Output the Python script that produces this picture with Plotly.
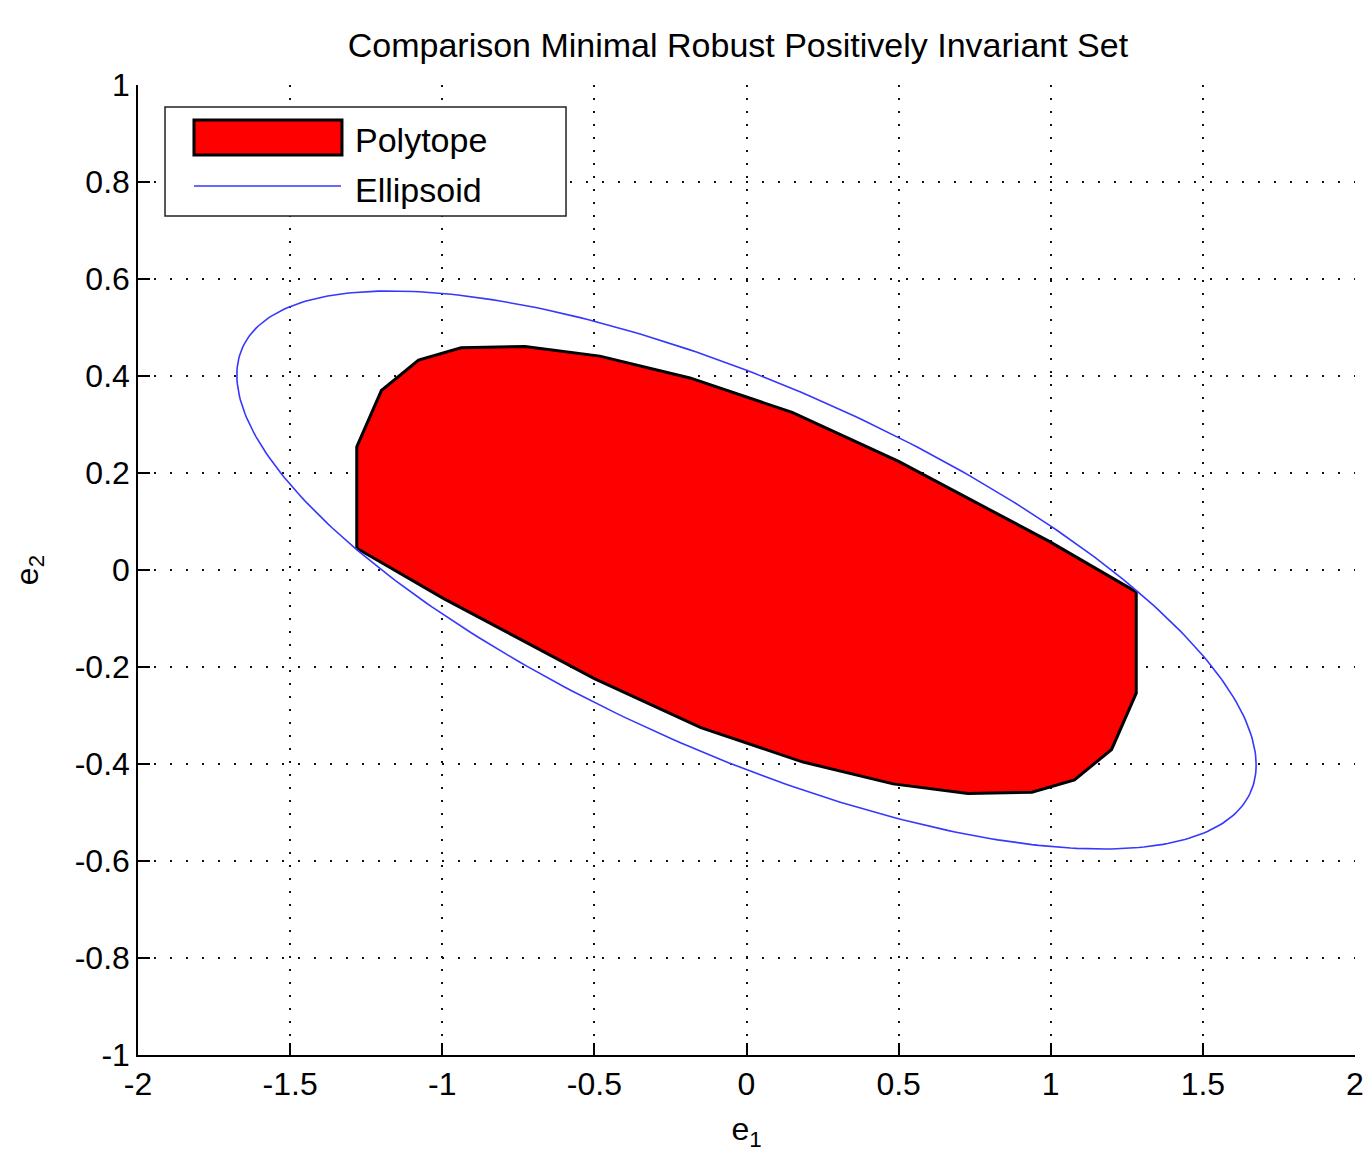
import numpy as np
import plotly.graph_objects as go

# Polytope vertices
poly_x = [-1.281, -1.281, -1.200, -1.078, -0.938, -0.728, -0.482, -0.186, 0.150, 0.500, 0.995,
          1.281, 1.281, 1.200, 1.078, 0.938, 0.728, 0.482, 0.186, -0.150, -0.500, -0.995, -1.281]
poly_y = [0.045, 0.254, 0.370, 0.433, 0.458, 0.461, 0.441, 0.396, 0.325, 0.224, 0.059,
          -0.045, -0.254, -0.370, -0.433, -0.458, -0.461, -0.441, -0.396, -0.325, -0.224, -0.059, 0.045]

# Ellipsoid shape matrix Q (x' Q^-1 x <= 1), centred at origin
ell_center = [0.0, 0.0]
ell_Q11 = 2.806
ell_Q12 = -0.673
ell_Q22 = 0.331

x_ticks = [-2, -1.5, -1, -0.5, 0, 0.5, 1, 1.5, 2]
x_tick_labels = ["-2", "-1.5", "-1", "-0.5", "0", "0.5", "1", "1.5", "2"]
y_ticks = [-1, -0.8, -0.6, -0.4, -0.2, 0, 0.2, 0.4, 0.6, 0.8, 1]
y_tick_labels = ["-1", "-0.8", "-0.6", "-0.4", "-0.2", "0", "0.2", "0.4", "0.6", "0.8", "1"]

title_text = "Comparison Minimal Robust Positively Invariant Set"
legend_names = ["Polytope", "Ellipsoid"]

# Ellipse boundary from its shape matrix
L = np.linalg.cholesky(np.array([[ell_Q11, ell_Q12], [ell_Q12, ell_Q22]]))
t = np.linspace(0, 2 * np.pi, 400)
pts = L @ np.vstack([np.cos(t), np.sin(t)])
ell_x = pts[0] + ell_center[0]
ell_y = pts[1] + ell_center[1]

FONT = "Liberation Sans, Arial, sans-serif"
BLUE = "rgb(55,55,255)"
FS = 32

fig = go.Figure()
fig.add_trace(go.Scatter(x=poly_x, y=poly_y, mode="lines", fill="toself",
                         fillcolor="#ff0000", line=dict(color="black", width=3),
                         name=legend_names[0], showlegend=False, hoverinfo="skip"))
fig.add_trace(go.Scatter(x=ell_x, y=ell_y, mode="lines",
                         line=dict(color=BLUE, width=1.6),
                         name=legend_names[1], showlegend=False, hoverinfo="skip"))

axis_common = dict(showgrid=True, gridcolor="#111111", gridwidth=2,
                   zeroline=False, showline=True, linecolor="black", linewidth=1.5,
                   ticks="inside", ticklen=12, tickwidth=1.5, tickcolor="black",
                   tickfont=dict(family=FONT, size=FS, color="black"),
                   mirror=False, automargin=False)

fig.update_xaxes(range=[-2, 2], tickvals=x_ticks, ticktext=x_tick_labels,
                 griddash="2px,11px",
                 title=dict(text="e<sub>1</sub>", font=dict(family=FONT, size=FS, color="black"),
                            standoff=18),
                 **axis_common)
fig.update_yaxes(range=[-1, 1], tickvals=y_ticks, ticktext=y_tick_labels,
                 griddash="2px,14px",
                 title=dict(text="e<sub>2</sub>", font=dict(family=FONT, size=FS, color="black"),
                            standoff=27),
                 **axis_common)

# Custom legend (paper coordinates)
shapes = [
    dict(type="rect", xref="paper", yref="paper", x0=0.0222, x1=0.3517, y0=0.8649, y1=0.9773,
         line=dict(color="#222222", width=1.5), fillcolor="white", layer="above"),
    dict(type="rect", xref="paper", yref="paper", x0=0.0460, x1=0.1676, y0=0.9278, y1=0.9639,
         line=dict(color="black", width=3), fillcolor="#ff0000", layer="above"),
    dict(type="line", xref="paper", yref="paper", x0=0.0460, x1=0.1668, y0=0.8959, y1=0.8959,
         line=dict(color=BLUE, width=1.6), layer="above"),
]
annotations = [
    dict(text=legend_names[0], xref="paper", yref="paper", x=0.177, y=0.9433,
         xanchor="left", yanchor="middle", showarrow=False,
         font=dict(family=FONT, size=34, color="black")),
    dict(text=legend_names[1], xref="paper", yref="paper", x=0.177, y=0.8918,
         xanchor="left", yanchor="middle", showarrow=False,
         font=dict(family=FONT, size=34, color="black")),
]

fig.update_layout(
    width=1364, height=1152,
    margin=dict(l=138, r=9, t=85, b=97),
    paper_bgcolor="white", plot_bgcolor="white",
    title=dict(text=title_text, x=0.541, xanchor="center", y=1 - 45 / 1152, yanchor="middle",
               yref="container", font=dict(family=FONT, size=34, color="black")),
    shapes=shapes, annotations=annotations,
    showlegend=False,
)

# remove the default page margin so the figure fills the window exactly
fig.write_html("out.html",
               config={"displayModeBar": False},
               post_script="document.body.style.margin='0px';document.body.style.overflow='hidden';")
